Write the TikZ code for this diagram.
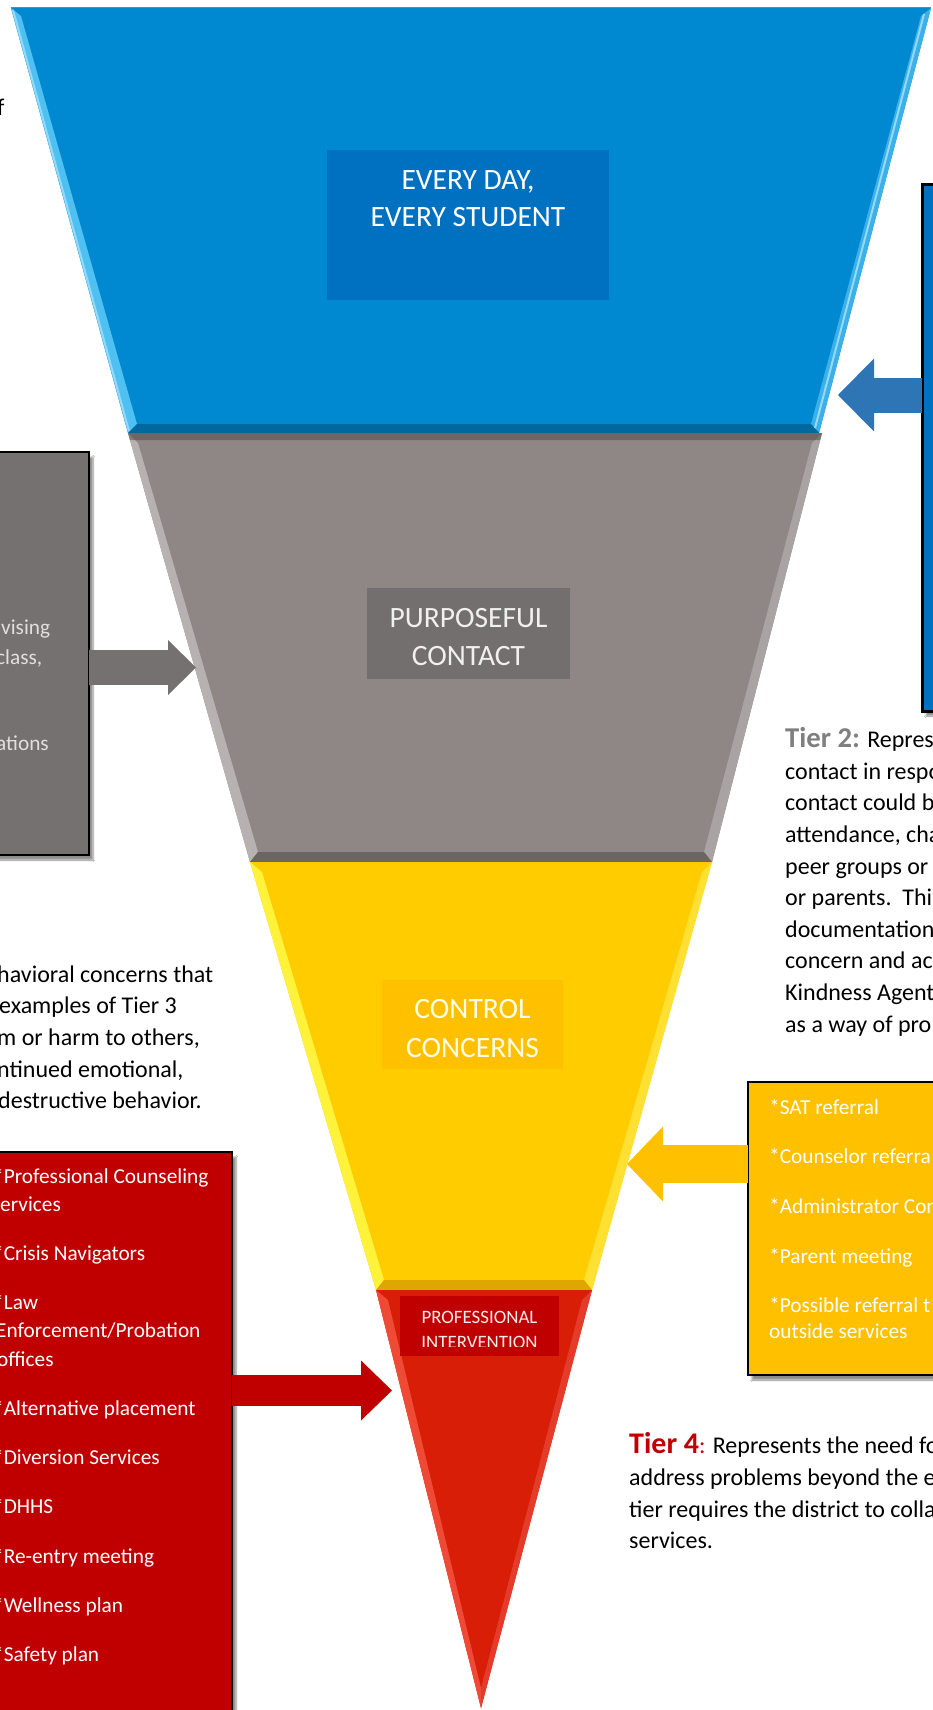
\documentclass[tikz,border=0pt]{standalone}
\usepackage{fontspec}
\setmainfont{Carlito}
\usetikzlibrary{shadows.blur,arrows.meta}
\definecolor{fblue}{HTML}{0088D1}
\definecolor{fbluehi}{HTML}{4FC0F2}
\definecolor{fbluehii}{HTML}{3CB0E8}
\definecolor{fbluedk}{HTML}{00679F}
\definecolor{lblue}{HTML}{0070C0}
\definecolor{fgray}{HTML}{8E8786}
\definecolor{fgrayhi}{HTML}{B7B2B1}
\definecolor{fgrayhii}{HTML}{A9A4A3}
\definecolor{fgraydk}{HTML}{6B6665}
\definecolor{lgray}{HTML}{736F6E}
\definecolor{bgray}{HTML}{757170}
\definecolor{fyel}{HTML}{FFCC00}
\definecolor{fyelhi}{HTML}{FFF23A}
\definecolor{fyelhii}{HTML}{FFE033}
\definecolor{fyeldk}{HTML}{E0A600}
\definecolor{lyel}{HTML}{FFC000}
\definecolor{fred}{HTML}{D81E06}
\definecolor{fredhi}{HTML}{EE4A36}
\definecolor{fredhii}{HTML}{E43C2A}
\definecolor{lred}{HTML}{C00000}
\definecolor{arblue}{HTML}{2E75B6}
\definecolor{argray}{HTML}{767171}
\definecolor{tiergray}{HTML}{7F7F7F}
\begin{document}
\begin{tikzpicture}[x=1pt,y=-1pt,
  body/.style={anchor=base west, inner sep=0pt, font=\fontsize{24}{28}\selectfont},
  wbody/.style={anchor=base west, inner sep=0pt, text=white, font=\fontsize{21.3}{26}\selectfont},
  lbl/.style={anchor=base, inner sep=0pt, font=\fontsize{29.5}{34}\selectfont},
  lblbox/.style={anchor=north west, inner sep=0pt, outer sep=0pt},
  infobox/.style={anchor=north west, inner sep=0pt, outer sep=0pt, draw=black, line width=2pt,
     blur shadow={shadow xshift=4pt, shadow yshift=-5pt, shadow blur steps=6, shadow opacity=45}}
]
\useasboundingbox (0,0) rectangle (932,1710);
\fill[white] (0,0) rectangle (932,1710);

% ---------- funnel: tier 1 (blue)
\fill[fblue] (11,8) -- (931,8) -- (819,433) -- (128,433) -- cycle;
\fill[fbluehi] (11,8) -- (21,16) -- (137,424) -- (128,433) -- cycle;
\fill[fbluehii] (931,8) -- (921,16) -- (811,424) -- (819,433) -- cycle;
\fill[fbluedk] (128,433) -- (137,424) -- (811,424) -- (819,433) -- cycle;
\draw[fbluehi!60!white, line width=2pt] (13,10) -- (129,431);
\draw[fbluehi!60!white, line width=2pt] (924,14) -- (815,428);
\draw[gray, line width=1pt] (11,8) -- (931,8);

% ---------- funnel: tier 2 (gray)
\fill[fgray] (128,433) -- (822,433) -- (712,862) -- (250,862) -- cycle;
\fill[fgrayhi] (128,433) -- (138,443) -- (258,852) -- (250,862) -- cycle;
\fill[fgrayhii] (822,433) -- (812,443) -- (704,852) -- (712,862) -- cycle;
\fill[fgraydk] (250,862) -- (258,852) -- (704,852) -- (712,862) -- cycle;
\fill[fgraydk!70!black, opacity=0.5] (128,433) -- (822,433) -- (820,440) -- (130,440) -- cycle;

% ---------- funnel: tier 3 (yellow)
\fill[fyel] (250,862) -- (712,862) -- (592,1290) -- (376,1290) -- cycle;
\fill[fyelhi] (250,862) -- (262,872) -- (384,1280) -- (376,1290) -- cycle;
\fill[fyelhii] (712,862) -- (702,872) -- (584,1280) -- (592,1290) -- cycle;
\fill[fyeldk] (376,1290) -- (384,1280) -- (584,1280) -- (592,1290) -- cycle;

% ---------- funnel: tier 4 (red)
\fill[fred] (376,1290) -- (592,1290) -- (481,1708) -- cycle;
\fill[fredhi] (376,1290) -- (388,1300) -- (481,1688) -- (481,1708) -- cycle;
\fill[fredhii] (592,1290) -- (582,1300) -- (481,1688) -- (481,1708) -- cycle;

% ---------- tier labels
\node[lblbox, fill=lblue, minimum width=282pt, minimum height=150pt] (l1box) at (327,150) {};
\node[lbl, text=white] (l1a) at (468,189) {EVERY DAY,};
\node[lbl, text=white] (l1b) at (468,226) {EVERY STUDENT};

\node[lblbox, fill=lgray, minimum width=203pt, minimum height=91pt] (l2box) at (367,588) {};
\node[lbl, text=white!94!black] (l2a) at (468.5,627) {PURPOSEFUL};
\node[lbl, text=white!94!black] (l2b) at (468.5,665) {CONTACT};

\node[lblbox, fill=lyel, minimum width=181pt, minimum height=89pt] (l3box) at (382,980) {};
\node[lbl, text=white!90!yellow] (l3a) at (472.5,1018) {CONTROL};
\node[lbl, text=white!90!yellow] (l3b) at (472.5,1057) {CONCERNS};

\node[lblbox, fill=lred, minimum width=159pt, minimum height=60pt] (l4box) at (400,1296) {};
\begin{scope}
\clip (400,1296) rectangle (559,1346);
\node[lbl, text=white!92!red, font=\fontsize{18.9}{22}\selectfont] (l4a) at (479.5,1323) {PROFESSIONAL};
\node[lbl, text=white!92!red, font=\fontsize{18.9}{22}\selectfont] (l4b) at (479.5,1348) {INTERVENTION};
\end{scope}

% ---------- side boxes
\node[infobox, fill=lblue, line width=3pt, minimum width=40pt, minimum height=527pt] (bluebox) at (922,184) {};
\node[infobox, fill=bgray, minimum width=95pt, minimum height=403pt] (graybox) at (-6,452) {};
\node[infobox, fill=lyel, minimum width=200pt, minimum height=293pt] (yelbox) at (748,1082) {};
\node[infobox, fill=lred, minimum width=238pt, minimum height=600pt] (redbox) at (-6,1152) {};

% ---------- arrow tips on the funnel
\coordinate (t1tip) at (838,395);
\coordinate (t2tip) at (196,667.5);
\coordinate (t3tip) at (627,1164);
\coordinate (t4tip) at (392,1390.5);

% ---------- block arrows
\draw[arblue, line width=35pt, -{Triangle[length=36pt,width=73pt,line width=0pt]}]
  (bluebox.west |- t1tip) -- (t1tip);
\draw[argray, line width=35pt, -{Triangle[length=28pt,width=55pt,line width=0pt]}]
  (graybox.east |- t2tip) -- (t2tip);
\draw[lyel, line width=38pt, -{Triangle[length=36pt,width=75pt,line width=0pt]}]
  (yelbox.west |- t3tip) -- (t3tip);
\draw[lred, line width=31pt, -{Triangle[length=31pt,width=60pt,line width=0pt]}]
  (redbox.east |- t4tip) -- (t4tip);

% ---------- texts: top left fragment
\node[body] (frag) at (-3,115) {f};

% ---------- gray box text
\node[wbody, text=white!88!black] (g1) at (1,634) {vising};
\node[wbody, text=white!88!black] (g2) at (-4,664) {class,};
\node[wbody, text=white!88!black] (g3) at (-4,750) {ations};

% ---------- tier 2 text
\node[body] (a1) at (785,747) {{\color{tiergray}\fontsize{28.7}{32}\selectfont\bfseries Tier 2:} Repres};
\node[body] (a2) at (785,779) {contact in respo};
\node[body] (a3) at (785,810) {contact could b};
\node[body] (a4) at (785,842) {attendance, cha};
\node[body] (a5) at (785,874) {peer groups or};
\node[body] (a6) at (785,905) {or parents.\ \ Thi};
\node[body] (a7) at (785,937) {documentation};
\node[body] (a8) at (785,968) {concern and ac};
\node[body] (a9) at (785,1000) {Kindness Agent};
\node[body] (a10) at (785,1032) {as a way of pro};

% ---------- tier 3 text
\node[body] (b1) at (-3,982) {havioral concerns that};
\node[body] (b2) at (-1,1013) {examples of Tier 3};
\node[body] (b3) at (-3,1045) {m or harm to others,};
\node[body] (b4) at (-3,1077) {ntinued emotional,};
\node[body] (b5) at (-2,1108) {destructive behavior.};

% ---------- yellow box text
\node[wbody] (y1) at (769,1114) {*SAT referral};
\node[wbody] (y2) at (769,1163) {*Counselor referra};
\node[wbody] (y3) at (769,1213) {*Administrator Con};
\node[wbody] (y4) at (769,1263) {*Parent meeting};
\node[wbody] (y5) at (769,1312) {*Possible referral t};
\node[wbody] (y6) at (769,1338) {outside services};

% ---------- red box text
\node[wbody] (r1) at (-7,1183) {*Professional Counseling};
\node[wbody] (r2) at (0,1211) {ervices};
\node[wbody] (r3) at (-7,1260) {*Crisis Navigators};
\node[wbody] (r4) at (-7,1309) {*Law};
\node[wbody] (r5) at (-4,1337) {Enforcement/Probation};
\node[wbody] (r6) at (-3,1366) {offices};
\node[wbody] (r7) at (-7,1415) {*Alternative placement};
\node[wbody] (r8) at (-7,1464) {*Diversion Services};
\node[wbody] (r9) at (-7,1513) {*DHHS};
\node[wbody] (r10) at (-7,1563) {*Re-entry meeting};
\node[wbody] (r11) at (-7,1612) {*Wellness plan};
\node[wbody] (r12) at (-7,1661) {*Safety plan};

% ---------- tier 4 text
\node[body] (c1) at (629,1453) {{\color{lred}\fontsize{30}{32}\selectfont\bfseries Tier 4}{\color{lred}:} Represents the need fo};
\node[body] (c2) at (629,1485) {address problems beyond the e};
\node[body] (c3) at (629,1517) {tier requires the district to colla};
\node[body] (c4) at (629,1548) {services.};
\end{tikzpicture}
\end{document}
